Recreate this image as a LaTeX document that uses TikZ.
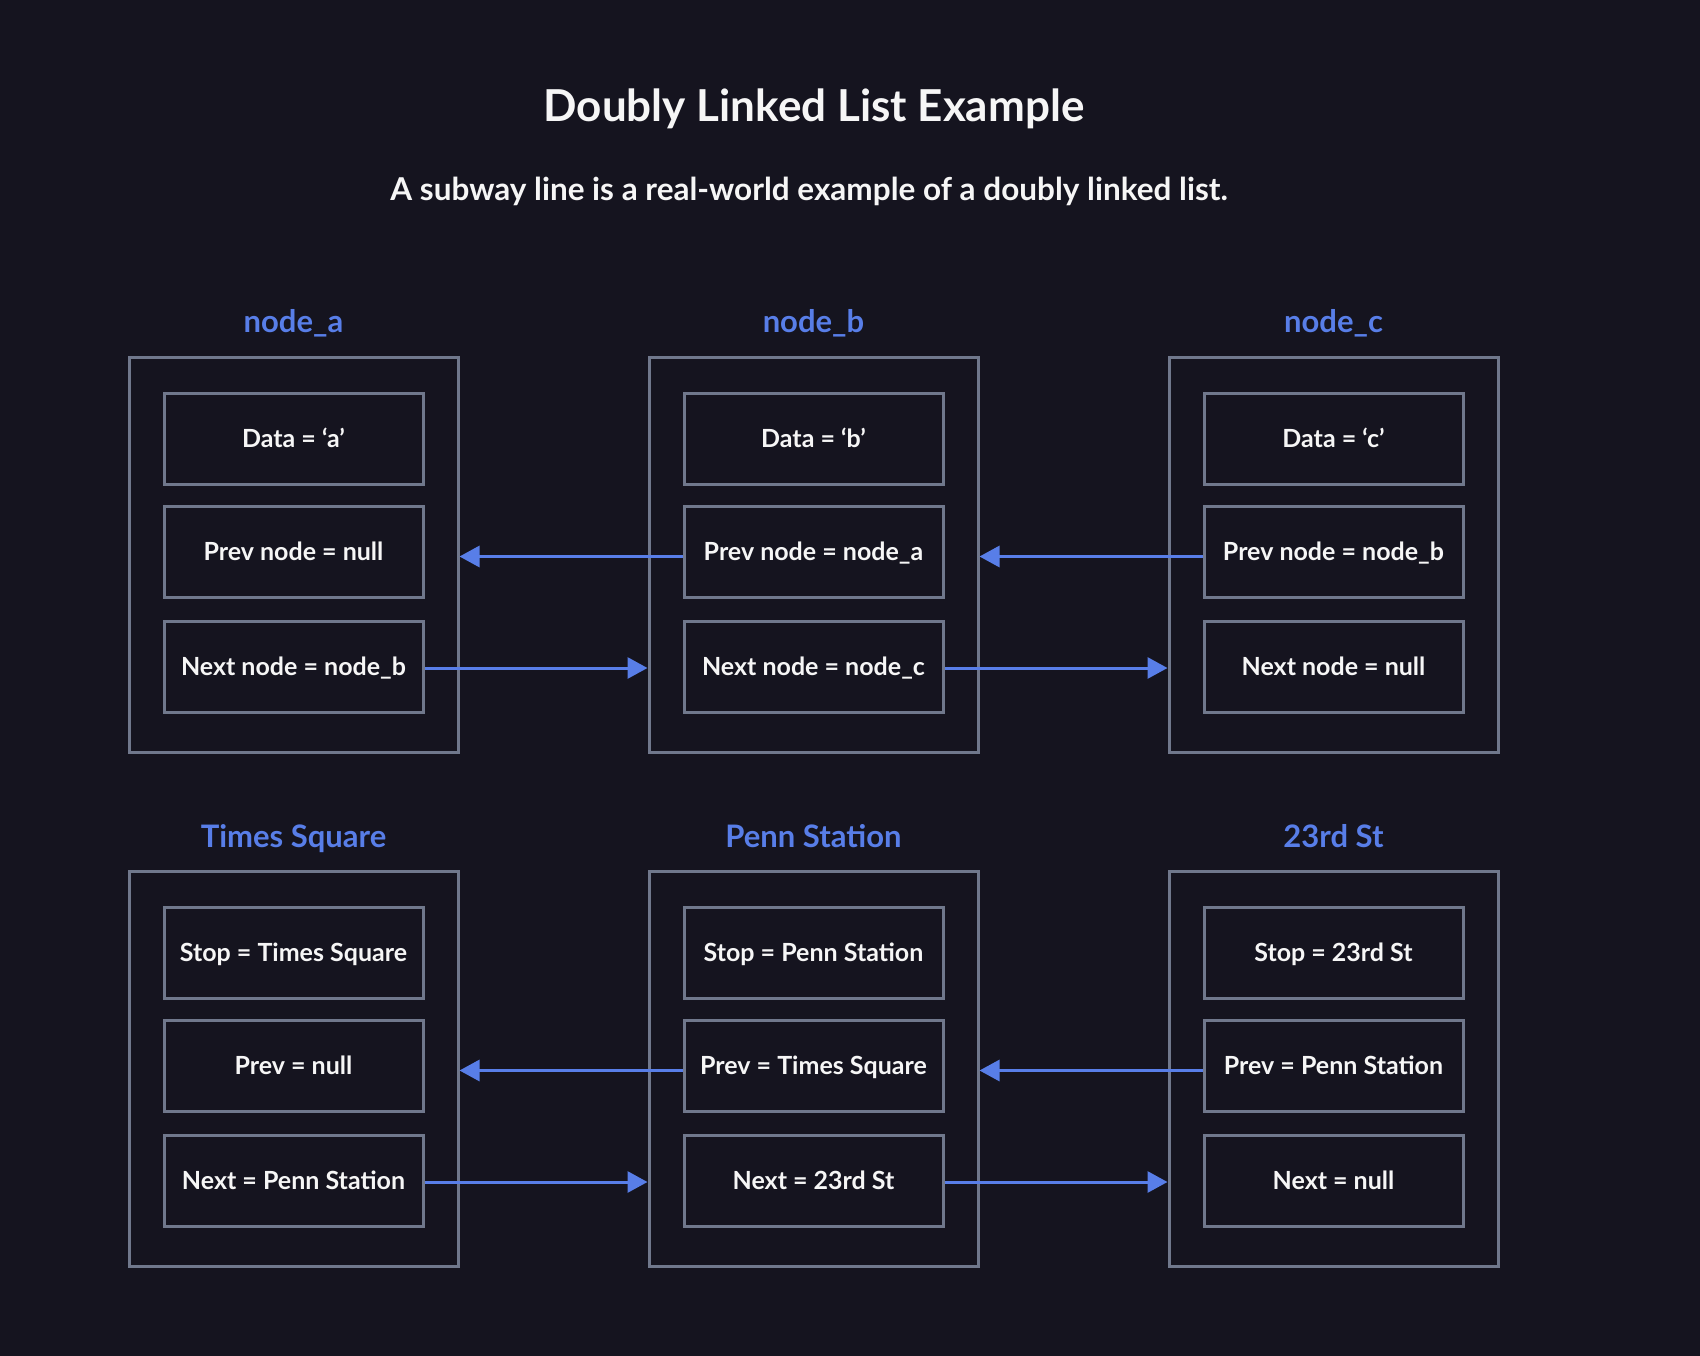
\documentclass[tikz,border=0pt]{standalone}
\usepackage{fontspec}
\setmainfont{Lato}
\usepackage{tikz}
\usetikzlibrary{arrows.meta}
\definecolor{bg}{RGB}{21,20,31}
\definecolor{frame}{RGB}{112,120,140}
\definecolor{link}{RGB}{88,126,232}
\definecolor{ink}{RGB}{246,246,246}

\tikzset{
  field/.style={draw=frame,line width=3pt,minimum width=259pt,minimum height=91pt,inner sep=0pt,text=ink,text height=18pt,text depth=0pt,font=\fontsize{25}{29}\selectfont\bfseries},
  holder/.style={draw=frame,line width=3pt,minimum width=329pt,minimum height=395pt,inner sep=0pt},
  caption/.style={text=link,text height=22pt,text depth=0pt,font=\fontsize{31}{36}\selectfont\bfseries},
  ptr/.style={draw=link,line width=3pt,-{Triangle[length=20pt,width=21pt]}}
}

\begin{document}
\begin{tikzpicture}[x=1pt,y=-1pt]
\useasboundingbox[fill=bg] (0,0) rectangle (1700,1356);
%Headings
\node[text=ink,text height=31pt,text depth=0pt,font=\fontsize{44}{50}\selectfont\bfseries] (title) at (814,106) {Doubly Linked List Example};
\node[text=ink,text height=22pt,text depth=0pt,font=\fontsize{31.5}{36}\selectfont\bfseries] (sub) at (809,190) {A subway line is a real-world example of a doubly linked list.};
%List nodes
\foreach \id/\x/\y/\ttl/\dat/\prv/\nxt in {
  a/293.5/0/node\_a/Data = ‘a’/Prev node = null/Next node = node\_b,
  b/813.5/0/node\_b/Data = ‘b’/Prev node = node\_a/Next node = node\_c,
  c/1333.5/0/node\_c/Data = ‘c’/Prev node = node\_b/Next node = null,
  s/293.5/514/Times Square/Stop = Times Square/Prev = null/Next = Penn Station,
  p/813.5/514/Penn Station/Stop = Penn Station/Prev = Times Square/Next = 23rd St,
  r/1333.5/514/23rd St/Stop = 23rd St/Prev = Penn Station/Next = null}
{
  \node[holder] (\id-box) at (\x,554.5+\y) {};
  \node[caption] (\id-cap) at (\x,322+\y) {\ttl};
  \node[field] (\id-data) at (\x,438.5+\y) {\dat};
  \node[field] (\id-prev) at (\x,551.5+\y) {\prv};
  \node[field] (\id-next) at (\x,666.5+\y) {\nxt};
}
%Links
\foreach \l/\r in {a/b,b/c,s/p,p/r}
{
  \draw[ptr,transform canvas={yshift=-5pt}] (\r-prev.west) -- (\l-box.east |- \r-prev.west);
  \draw[ptr,transform canvas={yshift=-1.5pt}] (\l-next.east) -- (\r-box.west |- \l-next.east);
}
\end{tikzpicture}
\end{document}
